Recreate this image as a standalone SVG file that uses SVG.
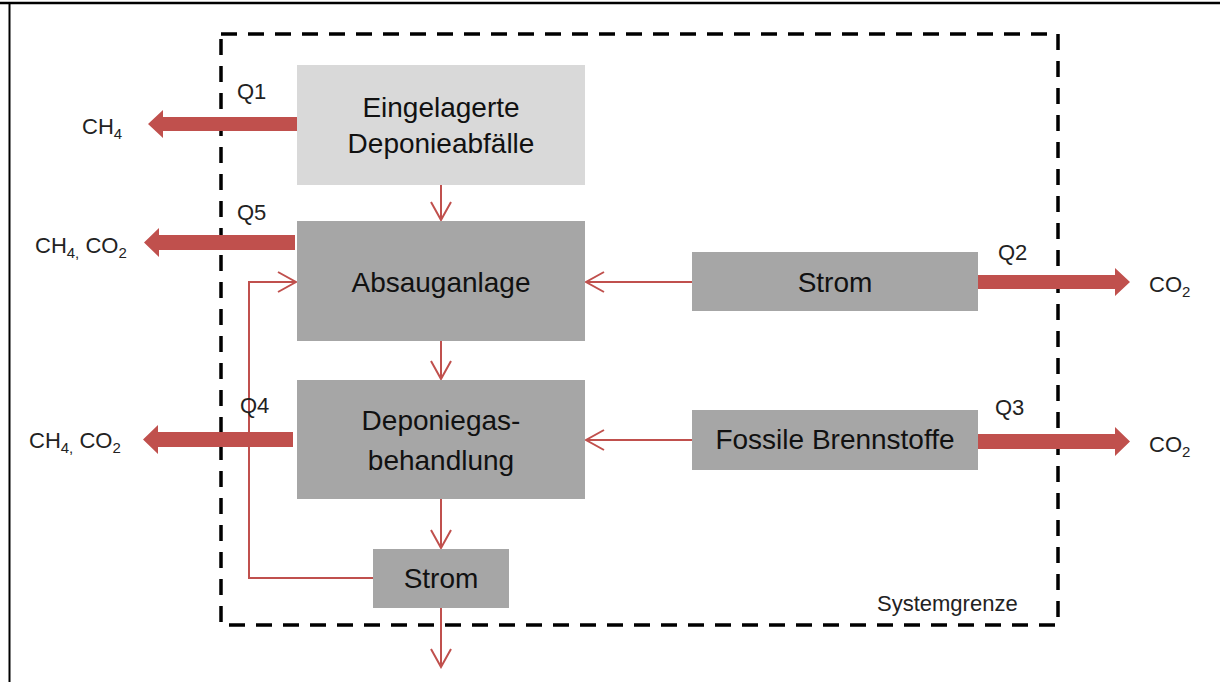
<svg xmlns="http://www.w3.org/2000/svg" width="1220" height="682" viewBox="0 0 1220 682">
<style>
.box{stroke:none}
.light{fill:#d9d9d9}
.dark{fill:#a6a6a6}
.lbl{font-family:"Liberation Sans",Arial,sans-serif;font-size:28px;fill:#111;text-anchor:middle}
.sm{font-family:"Liberation Sans",Arial,sans-serif;font-size:22px;fill:#222}
.thin{fill:none;stroke:#c0504d;stroke-width:2}
.thick{fill:#c0504d;stroke:none}
</style>
<defs>
<marker id="open" markerUnits="userSpaceOnUse" markerWidth="22" markerHeight="24" viewBox="0 0 22 24" refX="20" refY="12" orient="auto">
<path d="M2,2 L20,12 L2,22" fill="none" stroke="#c0504d" stroke-width="2"/>
</marker>
</defs>
<rect width="1220" height="682" fill="#fff"/>
<g id="frame">
<line x1="0" y1="3" x2="1220" y2="3" stroke="#000" stroke-width="2.5"/>
<line x1="9.5" y1="3" x2="9.5" y2="682" stroke="#000" stroke-width="2"/>
</g>
<g id="systemgrenze">
<rect x="221" y="34" width="837" height="591" fill="none" stroke="#000" stroke-width="3.5" stroke-dasharray="16 11"/>
<text class="sm" x="877" y="611" font-size="23">Systemgrenze</text>
</g>
<g id="connectors">
<line class="thin" x1="441" y1="185" x2="441" y2="220" marker-end="url(#open)"/>
<line class="thin" x1="441" y1="341" x2="441" y2="379" marker-end="url(#open)"/>
<line class="thin" x1="441" y1="499" x2="441" y2="548" marker-end="url(#open)"/>
<line class="thin" x1="441" y1="608" x2="441" y2="667" marker-end="url(#open)"/>
<line class="thin" x1="692" y1="282" x2="586" y2="282" marker-end="url(#open)"/>
<line class="thin" x1="692" y1="440" x2="586" y2="440" marker-end="url(#open)"/>
<polyline class="thin" points="373,578 249,578 249,282 296,282" marker-end="url(#open)"/>
<polygon class="thick" points="298,117 163,117 163,110 148,124 163,138 163,131 298,131"/>
<polygon class="thick" points="295,235 159,235 159,228 144,242.5 159,257 159,250 295,250"/>
<polygon class="thick" points="293,432 158,432 158,425 143,439.5 158,454 158,447 293,447"/>
<polygon class="thick" points="978,275 1115,275 1115,268 1130,282 1115,296 1115,289 978,289"/>
<polygon class="thick" points="978,434 1115,434 1115,427 1130,441.5 1115,456 1115,449 978,449"/>
</g>
<g id="eingelagerte">
<rect class="box light" x="297" y="65" width="288" height="120"/>
<text class="lbl" x="441" y="117">Eingelagerte</text>
<text class="lbl" x="441" y="153">Deponieabfälle</text>
</g>
<g id="absauganlage">
<rect class="box dark" x="297" y="221" width="288" height="120"/>
<text class="lbl" x="441" y="292">Absauganlage</text>
</g>
<g id="deponiegas">
<rect class="box dark" x="297" y="380" width="288" height="119"/>
<text class="lbl" x="441" y="430">Deponiegas-</text>
<text class="lbl" x="441" y="470">behandlung</text>
</g>
<g id="strom-unten">
<rect class="box dark" x="373" y="549" width="136" height="59"/>
<text class="lbl" x="441" y="588">Strom</text>
</g>
<g id="strom-rechts">
<rect class="box dark" x="692" y="252" width="286" height="59"/>
<text class="lbl" x="835" y="292">Strom</text>
</g>
<g id="fossile">
<rect class="box dark" x="692" y="410" width="286" height="60"/>
<text class="lbl" x="835" y="449">Fossile Brennstoffe</text>
</g>
<g id="labels">
<text class="sm" x="237" y="99">Q1</text>
<text class="sm" x="82" y="134">CH<tspan font-size="15" dy="5">4</tspan></text>
<text class="sm" x="237" y="220">Q5</text>
<text class="sm" x="35" y="253">CH<tspan font-size="15" dy="5">4,</tspan><tspan dy="-5"> CO</tspan><tspan font-size="15" dy="5">2</tspan></text>
<text class="sm" x="240" y="413">Q4</text>
<text class="sm" x="29" y="448">CH<tspan font-size="15" dy="5">4,</tspan><tspan dy="-5"> CO</tspan><tspan font-size="15" dy="5">2</tspan></text>
<text class="sm" x="998" y="260">Q2</text>
<text class="sm" x="1149" y="292">CO<tspan font-size="15" dy="5">2</tspan></text>
<text class="sm" x="995" y="415">Q3</text>
<text class="sm" x="1149" y="452">CO<tspan font-size="15" dy="5">2</tspan></text>
</g>
</svg>
